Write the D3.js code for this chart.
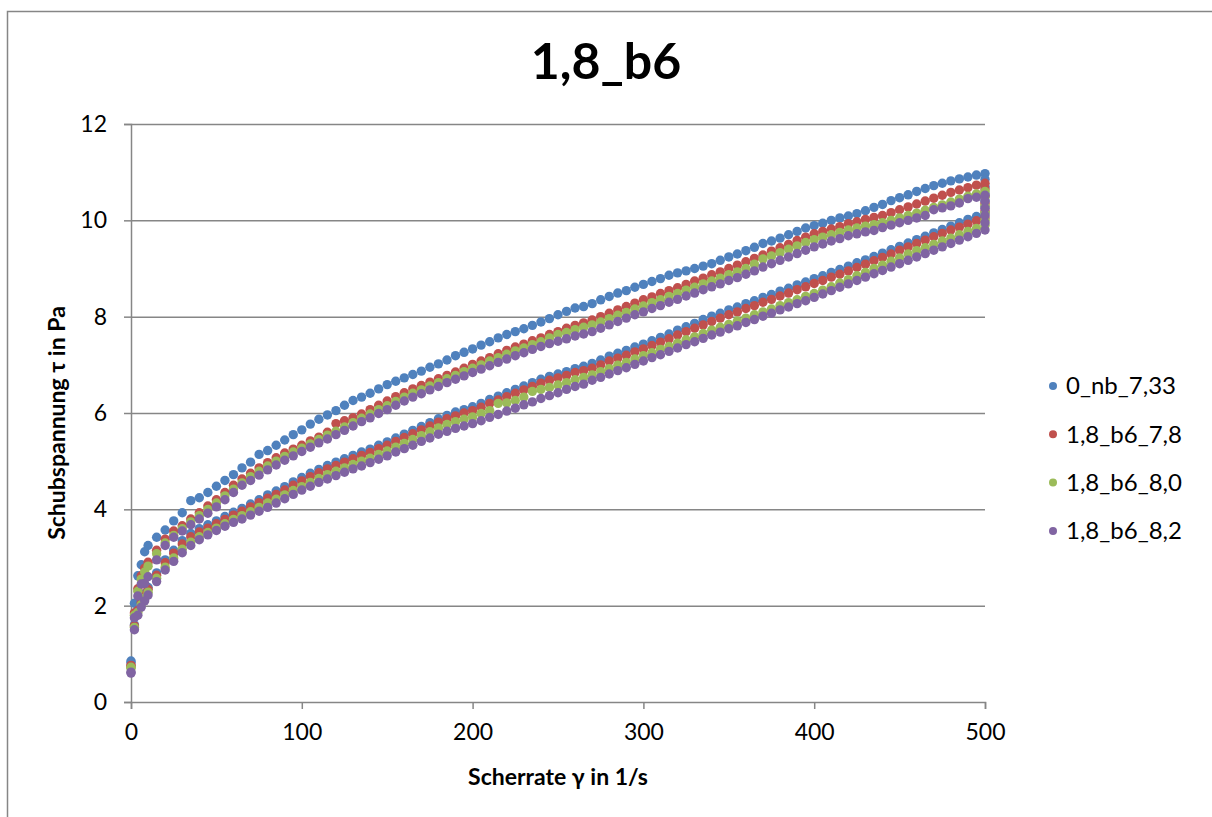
<!DOCTYPE html>
<html>
<head>
<meta charset="utf-8">
<script src="https://cdn.jsdelivr.net/npm/d3@7"></script>
<style>
  body { margin: 0; background: #fff; }
  svg text { font-family: Lato, 'Open Sans', sans-serif; fill: #000; }
</style>
</head>
<body>
<div id="chart"></div>
<script>
// shear rate grid (1/s), shared by up and down ramps
const shearRate = [0, 2, 4, 6, 8, 10,
  15, 20, 25, 30, 35, 40, 45, 50, 55, 60, 65, 70, 75, 80, 85, 90, 95, 100,
  105, 110, 115, 120, 125, 130, 135, 140, 145, 150, 155, 160, 165, 170, 175, 180, 185, 190, 195, 200,
  205, 210, 215, 220, 225, 230, 235, 240, 245, 250, 255, 260, 265, 270, 275, 280, 285, 290, 295, 300,
  305, 310, 315, 320, 325, 330, 335, 340, 345, 350, 355, 360, 365, 370, 375, 380, 385, 390, 395, 400,
  405, 410, 415, 420, 425, 430, 435, 440, 445, 450, 455, 460, 465, 470, 475, 480, 485, 490, 495, 500];

const seriesNames = ['0_nb_7,33', '1,8_b6_7,8', '1,8_b6_8,0', '1,8_b6_8,2'];
const colors = ['#4f81bd', '#c0504d', '#9bbb59', '#8064a2'];

// up ramp (stress in Pa)
const up_0nb_733 = [0.85, 2.05, 2.62, 2.85, 3.12, 3.25,
  3.42, 3.57, 3.76, 3.93, 4.18, 4.24, 4.35, 4.48, 4.60, 4.72, 4.86, 4.98, 5.14, 5.22, 5.33, 5.44, 5.55, 5.65,
  5.77, 5.87, 5.96, 6.05, 6.16, 6.26, 6.33, 6.41, 6.50, 6.59, 6.66, 6.73, 6.80, 6.87, 6.95, 7.02, 7.10, 7.19, 7.26, 7.33,
  7.41, 7.48, 7.56, 7.63, 7.69, 7.75, 7.82, 7.89, 7.96, 8.04, 8.11, 8.18, 8.21, 8.27, 8.35, 8.42, 8.49, 8.54, 8.61, 8.67,
  8.73, 8.79, 8.86, 8.91, 8.95, 9.00, 9.05, 9.10, 9.17, 9.24, 9.30, 9.37, 9.44, 9.52, 9.57, 9.63, 9.70, 9.77, 9.84, 9.89,
  9.94, 10.00, 10.05, 10.09, 10.14, 10.20, 10.27, 10.33, 10.41, 10.47, 10.53, 10.60, 10.66, 10.72, 10.77, 10.82, 10.86, 10.90, 10.94, 10.97];
const up_b6_78 = [0.75, 1.85, 2.35, 2.62, 2.78, 2.90,
  3.15, 3.38, 3.55, 3.66, 3.80, 3.93, 4.07, 4.20, 4.35, 4.50, 4.63, 4.75, 4.86, 4.97, 5.07, 5.17, 5.25, 5.33,
  5.42, 5.50, 5.60, 5.78, 5.84, 5.90, 5.98, 6.07, 6.16, 6.25, 6.34, 6.42, 6.50, 6.57, 6.64, 6.71, 6.78, 6.85, 6.93, 7.01,
  7.08, 7.15, 7.23, 7.30, 7.37, 7.43, 7.50, 7.56, 7.63, 7.69, 7.76, 7.82, 7.87, 7.93, 8.00, 8.07, 8.14, 8.21, 8.28, 8.35,
  8.41, 8.48, 8.54, 8.60, 8.67, 8.74, 8.80, 8.87, 8.93, 9.00, 9.07, 9.14, 9.21, 9.28, 9.36, 9.43, 9.50, 9.58, 9.65, 9.72,
  9.77, 9.82, 9.87, 9.93, 9.97, 10.02, 10.06, 10.10, 10.16, 10.22, 10.28, 10.34, 10.40, 10.46, 10.52, 10.58, 10.63, 10.68, 10.73, 10.77];
const up_b6_80 = [0.70, 1.80, 2.30, 2.55, 2.70, 2.82,
  3.08, 3.30, 3.46, 3.60, 3.74, 3.87, 4.00, 4.13, 4.28, 4.42, 4.55, 4.68, 4.79, 4.90, 5.00, 5.10, 5.19, 5.27,
  5.36, 5.45, 5.54, 5.62, 5.71, 5.80, 5.89, 5.98, 6.07, 6.15, 6.24, 6.33, 6.41, 6.48, 6.56, 6.63, 6.71, 6.78, 6.86, 6.93,
  7.00, 7.08, 7.15, 7.22, 7.29, 7.35, 7.42, 7.48, 7.56, 7.63, 7.67, 7.73, 7.78, 7.83, 7.89, 7.96, 8.03, 8.09, 8.16, 8.22,
  8.29, 8.35, 8.42, 8.48, 8.55, 8.61, 8.68, 8.74, 8.80, 8.87, 8.93, 9.00, 9.09, 9.20, 9.26, 9.33, 9.40, 9.47, 9.54, 9.60,
  9.65, 9.70, 9.75, 9.80, 9.84, 9.88, 9.91, 9.95, 10.00, 10.05, 10.10, 10.15, 10.21, 10.27, 10.32, 10.38, 10.44, 10.50, 10.55, 10.60];
const up_b6_82 = [0.62, 1.75, 2.20, 2.45, 2.46, 2.60,
  2.95, 3.25, 3.42, 3.55, 3.68, 3.80, 3.92, 4.05, 4.20, 4.35, 4.50, 4.60, 4.71, 4.82, 4.92, 5.02, 5.11, 5.20,
  5.29, 5.38, 5.46, 5.55, 5.64, 5.73, 5.82, 5.90, 5.99, 6.07, 6.16, 6.25, 6.33, 6.40, 6.48, 6.55, 6.63, 6.70, 6.77, 6.84,
  6.91, 6.98, 7.05, 7.12, 7.19, 7.25, 7.32, 7.38, 7.44, 7.49, 7.54, 7.60, 7.64, 7.69, 7.76, 7.83, 7.90, 7.97, 8.04, 8.10,
  8.17, 8.23, 8.30, 8.36, 8.43, 8.49, 8.56, 8.62, 8.68, 8.75, 8.81, 8.88, 8.95, 9.03, 9.10, 9.17, 9.24, 9.31, 9.38, 9.45,
  9.51, 9.57, 9.62, 9.68, 9.72, 9.76, 9.79, 9.85, 9.90, 9.95, 10.00, 10.05, 10.10, 10.22, 10.26, 10.30, 10.36, 10.45, 10.48, 10.52];

// hold at 500 1/s
const hold_0nb_733 = [10.85, 10.70, 10.55, 10.40, 10.28];
const hold_b6_78 = [10.65, 10.50, 10.35, 10.20];
const hold_b6_80 = [10.48, 10.30, 10.15, 10.00];
const hold_b6_82 = [10.40, 10.25, 10.10, 9.95];

// down ramp (same shear rate grid)
const down_0nb_733 = [0.82, 1.60, 1.92, 2.10, 2.25, 2.38,
  2.68, 2.95, 3.15, 3.35, 3.50, 3.60, 3.68, 3.76, 3.85, 3.94, 4.02, 4.11, 4.20, 4.30, 4.38, 4.47, 4.57, 4.66,
  4.75, 4.83, 4.91, 4.98, 5.05, 5.12, 5.19, 5.25, 5.33, 5.40, 5.48, 5.56, 5.64, 5.72, 5.80, 5.88, 5.95, 6.02, 6.07, 6.13,
  6.20, 6.28, 6.35, 6.42, 6.49, 6.56, 6.63, 6.70, 6.76, 6.81, 6.86, 6.92, 6.97, 7.03, 7.10, 7.18, 7.24, 7.30, 7.37, 7.43,
  7.50, 7.57, 7.64, 7.72, 7.79, 7.86, 7.94, 8.01, 8.07, 8.14, 8.20, 8.27, 8.33, 8.40, 8.46, 8.53, 8.59, 8.66, 8.72, 8.79,
  8.85, 8.92, 8.98, 9.05, 9.12, 9.18, 9.25, 9.32, 9.39, 9.46, 9.53, 9.60, 9.67, 9.74, 9.81, 9.88, 9.95, 10.02, 10.08, 10.15];
const down_b6_78 = [0.76, 1.58, 1.90, 2.07, 2.22, 2.34,
  2.63, 2.89, 3.09, 3.28, 3.43, 3.53, 3.61, 3.70, 3.79, 3.88, 3.96, 4.05, 4.14, 4.23, 4.31, 4.40, 4.50, 4.59,
  4.68, 4.76, 4.84, 4.91, 4.98, 5.05, 5.12, 5.18, 5.26, 5.33, 5.41, 5.49, 5.57, 5.65, 5.73, 5.81, 5.88, 5.94, 6.00, 6.05,
  6.12, 6.20, 6.27, 6.34, 6.41, 6.48, 6.55, 6.62, 6.68, 6.73, 6.78, 6.84, 6.88, 6.93, 7.00, 7.08, 7.14, 7.20, 7.27, 7.33,
  7.40, 7.47, 7.54, 7.62, 7.69, 7.76, 7.83, 7.90, 7.97, 8.04, 8.10, 8.17, 8.23, 8.30, 8.36, 8.43, 8.49, 8.56, 8.62, 8.69,
  8.75, 8.82, 8.88, 8.95, 9.02, 9.09, 9.16, 9.23, 9.30, 9.38, 9.45, 9.52, 9.59, 9.66, 9.73, 9.80, 9.86, 9.92, 9.99, 10.05];
const down_b6_80 = [0.72, 1.55, 1.86, 2.02, 2.16, 2.28,
  2.57, 2.80, 2.99, 3.17, 3.32, 3.43, 3.52, 3.61, 3.70, 3.79, 3.87, 3.95, 4.04, 4.13, 4.21, 4.30, 4.39, 4.47,
  4.56, 4.64, 4.72, 4.79, 4.86, 4.93, 5.00, 5.06, 5.14, 5.21, 5.29, 5.37, 5.45, 5.53, 5.61, 5.69, 5.76, 5.82, 5.87, 5.92,
  5.99, 6.05, 6.20, 6.21, 6.26, 6.33, 6.45, 6.49, 6.53, 6.58, 6.63, 6.69, 6.74, 6.79, 6.86, 6.92, 6.99, 7.05, 7.12, 7.19,
  7.25, 7.32, 7.38, 7.45, 7.52, 7.58, 7.65, 7.72, 7.78, 7.84, 7.91, 7.97, 8.04, 8.10, 8.16, 8.23, 8.29, 8.35, 8.42, 8.48,
  8.55, 8.62, 8.70, 8.77, 8.85, 8.92, 9.00, 9.07, 9.15, 9.22, 9.30, 9.37, 9.43, 9.50, 9.57, 9.63, 9.70, 9.77, 9.83, 9.90];
const down_b6_82 = [0.60, 1.50, 1.80, 1.97, 2.10, 2.22,
  2.50, 2.74, 2.92, 3.10, 3.25, 3.37, 3.47, 3.56, 3.65, 3.73, 3.80, 3.88, 3.96, 4.04, 4.13, 4.22, 4.31, 4.40,
  4.48, 4.56, 4.63, 4.70, 4.77, 4.84, 4.90, 4.97, 5.04, 5.11, 5.19, 5.26, 5.33, 5.41, 5.48, 5.56, 5.62, 5.68, 5.73, 5.78,
  5.84, 5.91, 5.97, 6.04, 6.10, 6.17, 6.23, 6.30, 6.36, 6.42, 6.49, 6.55, 6.60, 6.68, 6.74, 6.81, 6.88, 6.94, 7.01, 7.08,
  7.15, 7.21, 7.28, 7.35, 7.42, 7.48, 7.55, 7.62, 7.68, 7.75, 7.81, 7.88, 7.94, 8.01, 8.07, 8.14, 8.20, 8.27, 8.33, 8.40,
  8.47, 8.54, 8.61, 8.68, 8.75, 8.82, 8.89, 8.96, 9.03, 9.10, 9.17, 9.24, 9.31, 9.38, 9.45, 9.52, 9.59, 9.66, 9.73, 9.80];

const xTicks = [0, 100, 200, 300, 400, 500];
const yTicks = [0, 2, 4, 6, 8, 10, 12];

const upData = [up_0nb_733, up_b6_78, up_b6_80, up_b6_82];
const holdData = [hold_0nb_733, hold_b6_78, hold_b6_80, hold_b6_82];
const downData = [down_0nb_733, down_b6_78, down_b6_80, down_b6_82];

const W = 1212, H = 817;
const plot = { left: 131, right: 985, top: 124, bottom: 702 };

const svg = d3.select('#chart').append('svg')
  .attr('width', W)
  .attr('height', H);

// outer chart border (only top and left visible)
svg.append('path')
  .attr('d', `M7.5,${H} V11.5 H${W}`)
  .attr('fill', 'none')
  .attr('stroke', '#868686')
  .attr('stroke-width', 1.5);

const x = d3.scaleLinear().domain([0, 500]).range([plot.left, plot.right]);
const y = d3.scaleLinear().domain([0, 12]).range([plot.bottom, plot.top]);

// gridlines
svg.append('g')
  .attr('transform', `translate(${plot.left},0)`)
  .call(d3.axisLeft(y).tickValues(yTicks.slice(1)).tickSize(-(plot.right - plot.left)).tickFormat(''))
  .call(g => g.select('.domain').remove())
  .call(g => g.selectAll('line').attr('stroke', '#868686').attr('stroke-width', 1.5));

// y axis
svg.append('g')
  .attr('transform', `translate(${plot.left},0)`)
  .call(d3.axisLeft(y).tickValues(yTicks).tickSize(7).tickPadding(17).tickFormat(d3.format('d')))
  .call(g => g.select('.domain').attr('stroke', '#868686').attr('stroke-width', 1.5))
  .call(g => g.selectAll('.tick line').attr('stroke', '#868686').attr('stroke-width', 1.5))
  .call(g => g.selectAll('text').style('font-size', '23px').attr('fill', '#000'));

// x axis
svg.append('g')
  .attr('transform', `translate(0,${plot.bottom})`)
  .call(d3.axisBottom(x).tickValues(xTicks).tickSize(7).tickPadding(15).tickFormat(d3.format('d')))
  .call(g => g.select('.domain').attr('stroke', '#868686').attr('stroke-width', 1.5))
  .call(g => g.selectAll('.tick line').attr('stroke', '#868686').attr('stroke-width', 1.5))
  .call(g => g.selectAll('text').style('font-size', '23px').attr('fill', '#000'));

// points
seriesNames.forEach((name, s) => {
  const pts = [];
  shearRate.forEach((r, i) => pts.push([r, upData[s][i]]));
  holdData[s].forEach(v => pts.push([500, v]));
  for (let i = shearRate.length - 1; i >= 0; i--) pts.push([shearRate[i], downData[s][i]]);

  svg.append('g')
    .selectAll('circle')
    .data(pts)
    .join('circle')
    .attr('cx', d => x(d[0]))
    .attr('cy', d => y(d[1]))
    .attr('r', 4.7)
    .attr('fill', colors[s]);
});

// title
svg.append('text')
  .attr('x', 606)
  .attr('y', 79)
  .attr('text-anchor', 'middle')
  .style('font-size', '50px')
  .style('font-weight', 'bold')
  .text('1,8_b6');

// axis titles
svg.append('text')
  .attr('x', 558)
  .attr('y', 785)
  .attr('text-anchor', 'middle')
  .style('font-size', '23px')
  .style('font-weight', 'bold')
  .text('Scherrate γ in 1/s');

svg.append('text')
  .attr('transform', `translate(65,${(plot.top + plot.bottom) / 2 + 10}) rotate(-90)`)
  .attr('text-anchor', 'middle')
  .style('font-size', '23px')
  .style('font-weight', 'bold')
  .text('Schubspannung τ in Pa');

// legend
const legend = svg.append('g').attr('transform', 'translate(1053,386)');
seriesNames.forEach((name, i) => {
  const row = legend.append('g').attr('transform', `translate(0,${i * 48.3})`);
  row.append('circle').attr('r', 4).attr('fill', colors[i]);
  row.append('text')
    .attr('x', 13)
    .attr('dy', '0.35em')
    .style('font-size', '24px')
    .text(name);
});
</script>
</body>
</html>
